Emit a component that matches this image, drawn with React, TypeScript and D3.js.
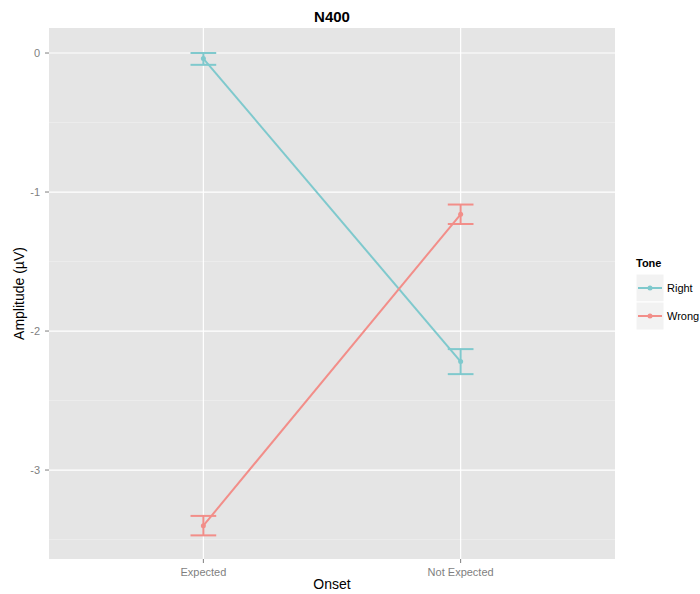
import React from "react";
import * as d3 from "d3";

// values
const onsets = ["Expected", "Not Expected"];
const tones = ["Right", "Wrong"];
const rightMean = [-0.04, -2.22];
const rightLow = [-0.085, -2.31];
const rightHigh = [0.0, -2.13];
const wrongMean = [-3.4, -1.16];
const wrongLow = [-3.47, -1.23];
const wrongHigh = [-3.33, -1.09];
const yTicks = [0, -1, -2, -3];
const yMinor = [-0.5, -1.5, -2.5, -3.5];
const toneColors = ["#7fc9cd", "#f28e89"];

const W = 700, H = 594;
const margin = { top: 28, right: 85, bottom: 35, left: 49 };

export default function App() {
  const pw = W - margin.left - margin.right;
  const ph = H - margin.top - margin.bottom;

  // discrete x axis padded like ggplot (0.6 on each side)
  const x = d3.scaleLinear().domain([0.4, 2.6]).range([0, pw]);
  const y = d3.scaleLinear().domain([-3.64, 0.18]).range([ph, 0]);

  const series = [
    { name: tones[0], mean: rightMean, lo: rightLow, hi: rightHigh, color: toneColors[0] },
    { name: tones[1], mean: wrongMean, lo: wrongLow, hi: wrongHigh, color: toneColors[1] },
  ];

  const line = d3.line<number>()
    .x((d, i) => x(i + 1))
    .y(d => y(d));

  const half = 0.05;
  const font = "Liberation Sans, Arial, Helvetica, sans-serif";

  return (
    <svg width={W} height={H} style={{ position: "absolute", left: 0, top: 0 }} fontFamily={font}>
      <rect width={W} height={H} fill="#fff" />
      <g transform={`translate(${margin.left},${margin.top})`}>
        <rect width={pw} height={ph} fill="#e5e5e5" />
        {yMinor.map(t => (
          <line key={"m" + t} x1={0} x2={pw} y1={y(t)} y2={y(t)} stroke="#f2f2f2" strokeWidth={0.6} />
        ))}
        {yTicks.map(t => (
          <line key={"g" + t} x1={0} x2={pw} y1={y(t)} y2={y(t)} stroke="#fff" strokeWidth={1.2} />
        ))}
        {onsets.map((o, i) => (
          <line key={"gx" + o} x1={x(i + 1)} x2={x(i + 1)} y1={0} y2={ph} stroke="#fff" strokeWidth={1.2} />
        ))}

        {series.map(s => (
          <g key={s.name}>
            <path d={line(s.mean) || ""} fill="none" stroke={s.color} strokeWidth={2} />
            {s.mean.map((m, i) => (
              <g key={i}>
                <line x1={x(i + 1)} x2={x(i + 1)} y1={y(s.lo[i])} y2={y(s.hi[i])} stroke={s.color} strokeWidth={2} />
                <line x1={x(i + 1 - half)} x2={x(i + 1 + half)} y1={y(s.lo[i])} y2={y(s.lo[i])} stroke={s.color} strokeWidth={2} />
                <line x1={x(i + 1 - half)} x2={x(i + 1 + half)} y1={y(s.hi[i])} y2={y(s.hi[i])} stroke={s.color} strokeWidth={2} />
                <circle cx={x(i + 1)} cy={y(m)} r={2.5} fill={s.color} />
              </g>
            ))}
          </g>
        ))}

        {/* y axis */}
        {yTicks.map(t => (
          <g key={"yt" + t} transform={`translate(0,${y(t)})`}>
            <line x1={-4} x2={0} stroke="#7f7f7f" />
            <text x={-9} dy="0.35em" textAnchor="end" fontSize={11} fill="#7f7f7f">{t}</text>
          </g>
        ))}
        {/* x axis */}
        {onsets.map((o, i) => (
          <g key={"xt" + o} transform={`translate(${x(i + 1)},${ph})`}>
            <line y1={0} y2={4} stroke="#7f7f7f" />
            <text y={17} textAnchor="middle" fontSize={11} fill="#7f7f7f">{o}</text>
          </g>
        ))}
      </g>

      <text x={margin.left + pw / 2} y={22} textAnchor="middle" fontSize={15} fontWeight="bold">N400</text>
      <text x={margin.left + pw / 2} y={589} textAnchor="middle" fontSize={14}>Onset</text>
      <text transform={`translate(24,${margin.top + ph / 2}) rotate(-90)`} textAnchor="middle" fontSize={14}>Amplitude (µV)</text>

      {/* legend */}
      <g transform="translate(636,256)">
        <text x={0} y={11} fontSize={11} fontWeight="bold">Tone</text>
        {series.map((s, i) => (
          <g key={"lg" + s.name} transform={`translate(0,${18 + i * 28})`}>
            <rect width={28} height={28} fill="#f2f2f2" stroke="#fff" />
            <line x1={2} x2={26} y1={14} y2={14} stroke={s.color} strokeWidth={2} />
            <circle cx={14} cy={14} r={2.5} fill={s.color} />
            <text x={31} y={14} dy="0.35em" fontSize={11}>{s.name}</text>
          </g>
        ))}
      </g>
    </svg>
  );
}
